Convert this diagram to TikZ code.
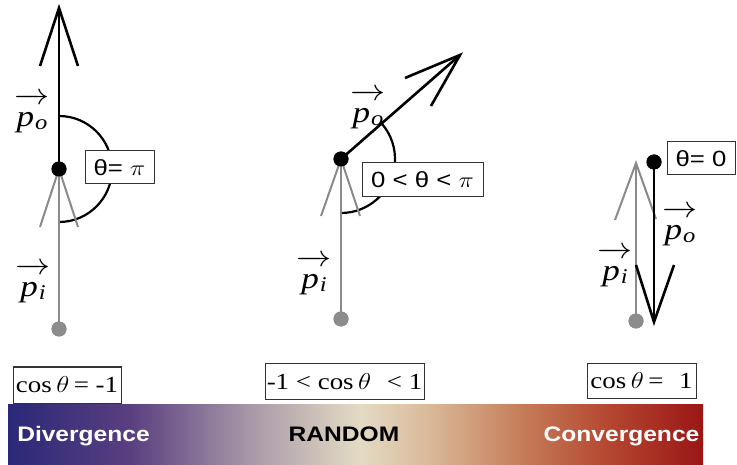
\RequirePackage{fix-cm}
\documentclass[tikz,border=0pt]{standalone}
\usepackage{fontspec}
\setmainfont{Liberation Serif}
\newfontfamily\sansf{Liberation Sans}
\definecolor{cA}{HTML}{2A2878}
\definecolor{cB}{HTML}{5A3F80}
\definecolor{cC}{HTML}{A898A8}
\definecolor{cD}{HTML}{E4DBC4}
\definecolor{cE}{HTML}{D9B898}
\definecolor{cF}{HTML}{C67E5A}
\definecolor{cG}{HTML}{B44630}
\definecolor{cH}{HTML}{9A1616}
\definecolor{greyline}{HTML}{8A8A8A}
\definecolor{greydot}{HTML}{8C8C8C}
\definecolor{boxline}{HTML}{333333}
\pgfdeclarehorizontalshading{spectrum}{100bp}{color(0bp)=(cA); color(25bp)=(cA); color(33.8bp)=(cB); color(42.4bp)=(cC); color(50.3bp)=(cD); color(55.4bp)=(cE); color(61.8bp)=(cF); color(68.3bp)=(cG); color(75bp)=(cH); color(100bp)=(cH)}
\newcommand{\hs}[1]{\scalebox{1.17}[1]{#1}}
\newcommand{\pvec}[1]{\hs{$\overrightarrow{\rule{0pt}{0.76em}\mbox{\itshape p\kern0.03em\raisebox{-0.12em}{\fontsize{21}{22}\selectfont #1}}}$}}
\begin{document}
\begin{tikzpicture}[x=1pt,y=-1pt,
  bvec/.style={line width=2.6pt, black},
  gvec/.style={line width=2pt, greyline},
  anglearc/.style={line width=2.2pt, black},
  dotb/.style={circle, fill=black, inner sep=0pt, minimum size=15pt},
  dotg/.style={circle, fill=greydot, inner sep=0pt, minimum size=15pt},
  thbox/.style={draw=boxline, line width=1pt, fill=white, inner sep=0pt, font=\sansf\fontsize{22}{24}\selectfont},
  cosbox/.style={draw=boxline, line width=1pt, fill=white, inner sep=0pt, font=\fontsize{23}{26}\selectfont},
  plab/.style={inner sep=0pt, font=\fontsize{30}{32}\selectfont},
  band/.style={inner sep=0pt, anchor=base, font=\sansf\bfseries\fontsize{21}{24}\selectfont}
]
\useasboundingbox (0,0) rectangle (737,465);

% colour band
\shade[shading=spectrum] (8,404) rectangle (703,465);
\node[band, text=white] (div) at (83.5,441) {\hs{Divergence}};
\node[band, text=black] (rnd) at (344,441) {\hs{RANDOM}};
\node[band, text=white] (conv) at (621.5,441) {\hs{Convergence}};

% cos boxes
\node[cosbox, minimum width=108pt, minimum height=36pt] (c1) at (67,385) {\hs{cos\,$\theta$\,= -1}};
\node[cosbox, minimum width=159pt, minimum height=35pt] (c2) at (344.5,381.5) {\hs{-1 < cos\,$\theta$\,\, < 1}};
\node[cosbox, minimum width=109pt, minimum height=34pt] (c3) at (641.5,381) {\hs{cos\,$\theta$\,=\,\, 1}};

% ---------- panel 1 ----------
\node[dotb] (d1) at (59,169) {};
\node[dotg] (g1) at (59,329) {};
\coordinate (t1) at (59,8);
\coordinate (b1l) at (40,66);
\coordinate (b1r) at (78,66);
\coordinate (gl1) at (40,227);
\coordinate (gr1) at (78,227);
\draw[anglearc] (d1.center) ++(-90:53) arc[start angle=-90, end angle=90, radius=53];
\draw[gvec] (d1.center) -- (g1.center);
\draw[gvec] (gl1) -- (d1.center) -- (gr1);
\draw[bvec] (d1.center) -- (t1);
\draw[bvec] (b1l) -- (t1) -- (b1r);
\node[dotb] at (d1) {};
\node[dotg] at (g1) {};
\node[thbox, minimum width=69pt, minimum height=33pt] (th1) at (119.5,167.5) {\hs{θ= $\pi$}};
\node[plab] (po1) at (32,113) {\pvec{o}};
\node[plab] (pi1) at (33,283) {\pvec{i}};

% ---------- panel 2 ----------
\node[dotb] (d2) at (341,159) {};
\node[dotg] (g2) at (341,319) {};
\coordinate (t2) at (460,55);
\coordinate (b2l) at (405,78);
\coordinate (b2r) at (431,106);
\coordinate (gl2) at (321,216);
\coordinate (gr2) at (360,216);
\draw[anglearc] (d2.center) ++(-41.2:54) arc[start angle=-41.2, end angle=90, radius=54];
\draw[gvec] (d2.center) -- (g2.center);
\draw[gvec] (gl2) -- (d2.center) -- (gr2);
\draw[bvec] (d2.center) -- (t2);
\draw[bvec] (b2l) -- (t2) -- (b2r);
\node[dotb] at (d2) {};
\node[dotg] at (g2) {};
\node[thbox, minimum width=121pt, minimum height=34pt] (th2) at (422.5,180) {\hs{0 < θ < $\pi$}};
\node[plab] (po2) at (368,109) {\pvec{o}};
\node[plab] (pi2) at (314,275) {\pvec{i}};

% ---------- panel 3 ----------
\node[dotb] (d3) at (654,162) {};
\node[dotg] (g3) at (636,321) {};
\coordinate (t3) at (654,322);
\coordinate (b3l) at (636,265);
\coordinate (b3r) at (674,265);
\coordinate (t3g) at (636,163);
\coordinate (gl3) at (615,220);
\coordinate (gr3) at (656,219);
\draw[gvec] (g3.center) -- (t3g);
\draw[gvec] (gl3) -- (t3g) -- (gr3);
\draw[bvec] (d3.center) -- (t3);
\draw[bvec] (b3l) -- (t3) -- (b3r);
\node[dotb] at (d3) {};
\node[dotg] at (g3) {};
\node[thbox, minimum width=68pt, minimum height=33pt] (th3) at (701,158.5) {\hs{θ= 0}};
\node[plab] (po3) at (680,226) {\pvec{o}};
\node[plab] (pi3) at (615,267) {\pvec{i}};
\end{tikzpicture}
\end{document}
